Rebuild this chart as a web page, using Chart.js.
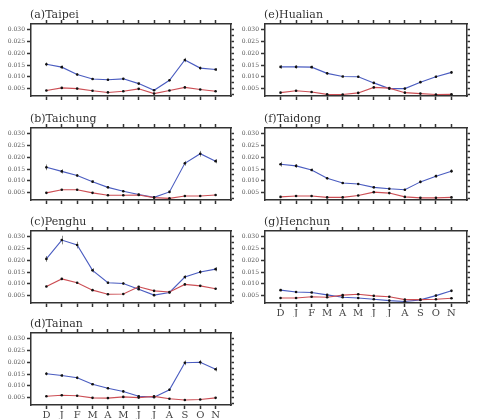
<!DOCTYPE html>
<html>
<head>
<meta charset="utf-8">
<script src="https://cdn.jsdelivr.net/npm/chart.js@4"></script>
<style>
  body { margin: 0; background: #fff; }
  #wrap { position: relative; width: 478px; height: 419px; overflow: hidden; }
  #wrap canvas { position: absolute; }
</style>
</head>
<body>
<div id="wrap"></div>
<script>
// Month labels (Dec -> Nov)
const months = ['D', 'J', 'F', 'M', 'A', 'M', 'J', 'J', 'A', 'S', 'O', 'N'];
const yTicks = [0.005, 0.010, 0.015, 0.020, 0.025, 0.030];
const yMinorTicks = [0.0025, 0.005, 0.0075, 0.010, 0.0125, 0.015, 0.0175, 0.020, 0.0225, 0.025, 0.0275, 0.030];

// Station names
const stations = ['(a)Taipei', '(b)Taichung', '(c)Penghu', '(d)Tainan', '(e)Hualian', '(f)Taidong', '(g)Henchun'];

// Blue series
const blueTaipei   = [0.0153, 0.0141, 0.0110, 0.0091, 0.0088, 0.0092, 0.0072, 0.0044, 0.0086, 0.0171, 0.0137, 0.0131];
const blueTaichung = [0.0157, 0.0140, 0.0123, 0.0097, 0.0073, 0.0057, 0.0043, 0.0031, 0.0054, 0.0174, 0.0214, 0.0183];
const bluePenghu   = [0.0205, 0.0284, 0.0263, 0.0157, 0.0105, 0.0102, 0.0078, 0.0053, 0.0064, 0.0129, 0.0150, 0.0162];
const blueTainan   = [0.0151, 0.0144, 0.0134, 0.0107, 0.0090, 0.0077, 0.0057, 0.0053, 0.0084, 0.0197, 0.0199, 0.0170];
const blueHualian  = [0.0142, 0.0142, 0.0141, 0.0115, 0.0102, 0.0101, 0.0075, 0.0051, 0.0051, 0.0078, 0.0101, 0.0119];
const blueTaidong  = [0.0170, 0.0163, 0.0146, 0.0111, 0.0091, 0.0087, 0.0073, 0.0067, 0.0063, 0.0096, 0.0120, 0.0141];
const blueHenchun  = [0.0074, 0.0066, 0.0064, 0.0054, 0.0044, 0.0041, 0.0036, 0.0030, 0.0026, 0.0033, 0.0051, 0.0071];

// Red series
const redTaipei    = [0.0043, 0.0054, 0.0051, 0.0042, 0.0035, 0.0040, 0.0050, 0.0030, 0.0043, 0.0056, 0.0047, 0.0040];
const redTaichung  = [0.0050, 0.0063, 0.0063, 0.0050, 0.0040, 0.0040, 0.0041, 0.0030, 0.0027, 0.0037, 0.0037, 0.0041];
const redPenghu    = [0.0089, 0.0121, 0.0105, 0.0074, 0.0057, 0.0058, 0.0088, 0.0071, 0.0066, 0.0098, 0.0092, 0.0080];
const redTainan    = [0.0057, 0.0061, 0.0059, 0.0050, 0.0049, 0.0054, 0.0051, 0.0056, 0.0046, 0.0041, 0.0043, 0.0050];
const redHualian   = [0.0034, 0.0042, 0.0037, 0.0027, 0.0026, 0.0033, 0.0056, 0.0053, 0.0034, 0.0030, 0.0026, 0.0027];
const redTaidong   = [0.0033, 0.0037, 0.0037, 0.0031, 0.0031, 0.0039, 0.0053, 0.0049, 0.0033, 0.0029, 0.0029, 0.0031];
const redHenchun   = [0.0041, 0.0041, 0.0046, 0.0044, 0.0053, 0.0057, 0.0050, 0.0046, 0.0034, 0.0034, 0.0036, 0.0040];

// Error bars on the blue series
const errTaipei    = [0.0008, 0.0007, 0.0005, 0.0004, 0.0004, 0.0004, 0.0004, 0.0003, 0.0005, 0.0009, 0.0006, 0.0006];
const errTaichung  = [0.0012, 0.0009, 0.0006, 0.0005, 0.0004, 0.0003, 0.0003, 0.0003, 0.0004, 0.0010, 0.0012, 0.0009];
const errPenghu    = [0.0012, 0.0018, 0.0014, 0.0009, 0.0005, 0.0005, 0.0004, 0.0004, 0.0004, 0.0008, 0.0008, 0.0009];
const errTainan    = [0.0007, 0.0006, 0.0006, 0.0004, 0.0004, 0.0004, 0.0003, 0.0003, 0.0005, 0.0010, 0.0010, 0.0009];
const errHualian   = [0.0008, 0.0007, 0.0006, 0.0005, 0.0004, 0.0004, 0.0004, 0.0003, 0.0003, 0.0004, 0.0005, 0.0006];
const errTaidong   = [0.0010, 0.0008, 0.0006, 0.0005, 0.0004, 0.0004, 0.0004, 0.0003, 0.0003, 0.0005, 0.0006, 0.0007];
const errHenchun   = [0.0005, 0.0004, 0.0004, 0.0003, 0.0003, 0.0003, 0.0003, 0.0003, 0.0003, 0.0003, 0.0004, 0.0005];

const BLUE = '#4a5cc0';
const RED = '#cc4f55';
const AXIS = '#333';

// Panel placement
const panels = [
    { name: stations[0], blue: blueTaipei,   red: redTaipei,   err: errTaipei,   left: 0,   top: 0,   width: 237, labels: false },
    { name: stations[1], blue: blueTaichung, red: redTaichung, err: errTaichung, left: 0,   top: 104, width: 237, labels: false },
    { name: stations[2], blue: bluePenghu,   red: redPenghu,   err: errPenghu,   left: 0,   top: 207, width: 237, labels: false },
    { name: stations[3], blue: blueTainan,   red: redTainan,   err: errTainan,   left: 0,   top: 309, width: 237, labels: true },
    { name: stations[4], blue: blueHualian,  red: redHualian,  err: errHualian,  left: 234, top: 0,   width: 239, labels: false },
    { name: stations[5], blue: blueTaidong,  red: redTaidong,  err: errTaidong,  left: 234, top: 104, width: 239, labels: false },
    { name: stations[6], blue: blueHenchun,  red: redHenchun,  err: errHenchun,  left: 234, top: 207, width: 239, labels: true }
];

// Draws error bars behind the lines
const errorBarPlugin = {
    id: 'errorBars',
    beforeDatasetsDraw(chart) {
        const ctx = chart.ctx;
        const xs = chart.scales.x, ys = chart.scales.y;
        ctx.save();
        ctx.strokeStyle = '#888';
        ctx.lineWidth = 1;
        chart.data.datasets.forEach(ds => {
            if (!ds.errors) return;
            ds.data.forEach((p, i) => {
                const e = ds.errors[i];
                const px = Math.round(xs.getPixelForValue(p.x)) + 0.5;
                ctx.beginPath();
                ctx.moveTo(px, ys.getPixelForValue(p.y - e));
                ctx.lineTo(px, ys.getPixelForValue(p.y + e));
                ctx.stroke();
            });
        });
        ctx.restore();
    }
};

// Panel title above the top-left corner of the box
const panelTitlePlugin = {
    id: 'panelTitle',
    afterDraw(chart, args, opts) {
        const ctx = chart.ctx;
        ctx.save();
        ctx.font = '11px "DejaVu Serif"';
        ctx.fillStyle = '#333';
        ctx.textBaseline = 'alphabetic';
        ctx.fillText(opts.text, chart.chartArea.left - 1, chart.chartArea.top - 6);
        ctx.restore();
    }
};

function fixedWidth(w) { return scale => { scale.width = w; }; }
function fixedHeight(h) { return scale => { scale.height = h; }; }
function monthTicks(scale) {
    scale.ticks = months.map((m, i) => ({ value: i }));
}

const wrap = document.getElementById('wrap');

panels.forEach(p => {
    const canvas = document.createElement('canvas');
    const height = 24 + 72 + (p.labels ? 14 : 6);
    canvas.width = p.width;
    canvas.height = height;
    canvas.style.left = p.left + 'px';
    canvas.style.top = p.top + 'px';
    canvas.style.width = p.width + 'px';
    canvas.style.height = height + 'px';
    wrap.appendChild(canvas);

    const tickGrid = len => ({
        drawOnChartArea: false,
        tickLength: len,
        tickWidth: 1.5,
        tickColor: AXIS
    });

    new Chart(canvas, {
        type: 'line',
        data: {
            datasets: [
                {
                    data: p.red.map((v, i) => ({ x: i, y: v })),
                    borderColor: RED,
                    borderWidth: 1.1,
                    pointRadius: 1.3,
                    pointBackgroundColor: '#111',
                    pointBorderColor: '#111',
                    pointBorderWidth: 0,
                    tension: 0
                },
                {
                    data: p.blue.map((v, i) => ({ x: i, y: v })),
                    errors: p.err,
                    borderColor: BLUE,
                    borderWidth: 1.1,
                    pointRadius: 1.3,
                    pointBackgroundColor: '#111',
                    pointBorderColor: '#111',
                    pointBorderWidth: 0,
                    tension: 0
                }
            ]
        },
        options: {
            responsive: false,
            animation: false,
            devicePixelRatio: 1,
            layout: { padding: 0 },
            plugins: {
                legend: { display: false },
                tooltip: { enabled: false },
                panelTitle: { text: p.name }
            },
            scales: {
                x: {
                    type: 'linear',
                    position: 'bottom',
                    min: -1,
                    max: 12,
                    afterBuildTicks: monthTicks,
                    afterFit: fixedHeight(p.labels ? 14 : 6),
                    border: { color: AXIS, width: 1.5 },
                    grid: tickGrid(4),
                    ticks: {
                        display: p.labels,
                        padding: 0,
                        autoSkip: false,
                        maxRotation: 0,
                        color: '#444',
                        font: { family: 'DejaVu Serif', size: 10 },
                        callback: v => months[v] || ''
                    }
                },
                x2: {
                    type: 'linear',
                    position: 'top',
                    min: -1,
                    max: 12,
                    afterBuildTicks: monthTicks,
                    afterFit: fixedHeight(24),
                    border: { color: AXIS, width: 1.5 },
                    grid: tickGrid(4),
                    ticks: { display: false, autoSkip: false }
                },
                y: {
                    type: 'linear',
                    position: 'left',
                    min: 0.002,
                    max: 0.0322,
                    afterBuildTicks: scale => { scale.ticks = yTicks.map(v => ({ value: v })); },
                    afterFit: fixedWidth(31),
                    border: { color: AXIS, width: 1.5 },
                    grid: tickGrid(4),
                    ticks: {
                        padding: 2,
                        autoSkip: false,
                        color: '#555',
                        font: { family: 'DejaVu Serif', size: 6 },
                        callback: v => v.toFixed(3)
                    }
                },
                y2: {
                    type: 'linear',
                    position: 'right',
                    min: 0.002,
                    max: 0.0322,
                    afterBuildTicks: scale => { scale.ticks = yMinorTicks.map(v => ({ value: v })); },
                    afterFit: fixedWidth(p.width - 31 - (p.left ? 202 : 200)),
                    border: { color: AXIS, width: 1.5 },
                    grid: tickGrid(3),
                    ticks: { display: false, autoSkip: false }
                }
            }
        },
        plugins: [errorBarPlugin, panelTitlePlugin]
    });
});
</script>
</body>
</html>
